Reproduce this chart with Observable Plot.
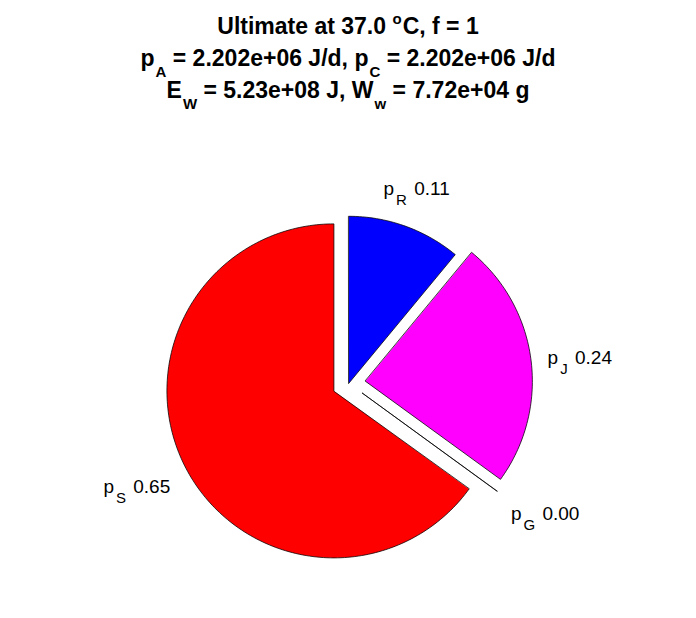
<!DOCTYPE html>
<html><head><meta charset="utf-8">
<script src="https://cdn.jsdelivr.net/npm/d3@7"></script>
<script src="https://cdn.jsdelivr.net/npm/@observablehq/plot@0.6"></script>
<style>
html,body{margin:0;padding:0;background:#fff;}
body{width:696px;height:618px;overflow:hidden;}
#title{height:110px;box-sizing:border-box;padding-top:10px;font-family:"Liberation Sans",Arial,Helvetica,sans-serif;font-weight:bold;font-size:23px;line-height:32px;text-align:center;color:#000;white-space:nowrap;}
#title div{height:32px;}
#title .sub{font-size:15px;position:relative;top:11px;line-height:0;margin-left:1px;}
#title .sup{font-size:15px;position:relative;top:-10px;line-height:0;margin-right:1px;}
</style></head><body>
<div id="title"></div>
<div id="chart"></div>
<script>
// ---- data ----
const titleLines = [
  "Ultimate at 37.0 ^oC, f = 1",
  "p_A = 2.202e+06 J/d, p_C = 2.202e+06 J/d",
  "E_W = 5.23e+08 J, W_w = 7.72e+04 g"
];
const names   = ["p_S", "p_G", "p_J", "p_R"];
const values  = [0.65, 0.00, 0.24, 0.11];
const colors  = ["#ff0000", "#00ff00", "#ff00ff", "#0000ff"];
const explode = [1, 1, 1, 0];

// ---- title (TeX-like ^ and _ markup) ----
function texHTML(s) {
  return s.replace(/([_^])(\w)/g, (m, k, c) => `<span class="${k === "_" ? "sub" : "sup"}">${c}</span>`);
}
document.getElementById("title").innerHTML = titleLines.map(l => `<div>${texHTML(l)}</div>`).join("");

// ---- pie geometry ----
const W = 696, H = 508, cx = 348.3, cy = 272.8, R = 167;
const slices = names.map((n, i) => ({name: n, value: values[i], color: colors[i], explode: explode[i]}));
const arcs = d3.pie().sort(null).startAngle(0).endAngle(-2 * Math.PI).value(d => d.value)(slices);

const polys = arcs.map(a => {
  const m = (a.startAngle + a.endAngle) / 2;
  const o = a.data.explode ? 0.1 : 0;
  const ox = o * Math.sin(m), oy = o * Math.cos(m);
  const n = Math.max(1, Math.ceil(300 * Math.abs(a.endAngle - a.startAngle) / (2 * Math.PI)));
  const pts = [{x: ox, y: oy}];
  for (let k = 0; k <= n; k++) {
    const t = a.startAngle + (a.endAngle - a.startAngle) * k / n;
    pts.push({x: ox + Math.sin(t), y: oy + Math.cos(t)});
  }
  return {data: a.data, pts};
});

const labels = arcs.map(a => {
  const m = (a.startAngle + a.endAngle) / 2;
  const s = Math.sin(m), c = Math.cos(m);
  return {
    x: 1.2 * s, y: 1.2 * c,
    text: a.data.name + " " + a.data.value.toFixed(2),
    textAnchor: s > 0.5 ? "start" : s < -0.5 ? "end" : "middle",
    lineAnchor: c > 0.5 ? "bottom" : c < -0.3 ? "top" : "middle"
  };
});

const marks = [];
for (const p of polys) {
  marks.push(Plot.line(p.pts, {x: "x", y: "y", fill: p.data.color, stroke: "black", strokeWidth: 0.75, curve: "linear-closed"}));
}
for (const l of labels) {
  marks.push(Plot.text([l], {x: "x", y: "y", text: "text", textAnchor: l.textAnchor, lineAnchor: l.lineAnchor,
    dy: l.lineAnchor === "top" ? 5 : 0, fontSize: 19, fill: "black"}));
}

const chart = Plot.plot({
  width: W, height: H,
  margin: 0,
  x: {domain: [-1, 1], range: [cx - R, cx + R], axis: null},
  y: {domain: [-1, 1], range: [cy + R, cy - R], axis: null},
  style: {fontFamily: "'Liberation Sans', Arial, Helvetica, sans-serif", background: "white", color: "black", overflow: "visible"},
  marks
});

// subscripts in slice labels
chart.querySelectorAll('g[aria-label="text"] text').forEach(t => {
  const s = t.textContent;
  const m = s.match(/^(\w)_(\w)(.*)$/);
  if (!m) return;
  t.textContent = "";
  const ns = "http://www.w3.org/2000/svg";
  const a = document.createElementNS(ns, "tspan"); a.textContent = m[1];
  const b = document.createElementNS(ns, "tspan"); b.textContent = m[2];
  b.setAttribute("dx", "2"); b.setAttribute("dy", "10"); b.setAttribute("font-size", "15");
  const c = document.createElementNS(ns, "tspan"); c.textContent = m[3];
  c.setAttribute("dx", "2"); c.setAttribute("dy", "-10");
  t.append(a, b, c);
});
document.getElementById("chart").appendChild(chart);
</script></body></html>
